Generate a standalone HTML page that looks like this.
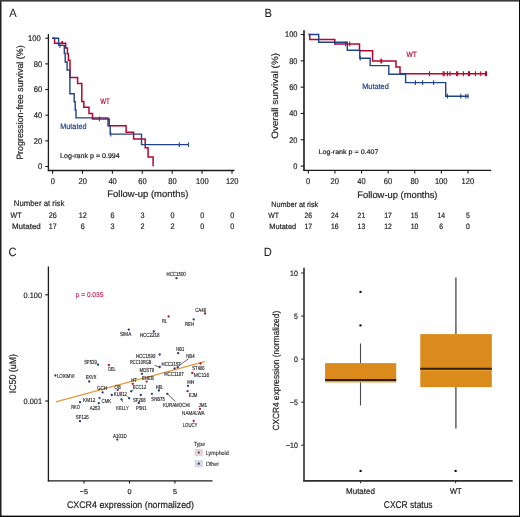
<!DOCTYPE html>
<html><head><meta charset="utf-8"><style>
html,body{margin:0;padding:0;background:#fff;width:520px;height:517px;overflow:hidden}
svg{display:block;will-change:transform}
text{font-family:"Liberation Sans", sans-serif;text-rendering:geometricPrecision}
</style></head><body>
<svg width="520" height="517" viewBox="0 0 520 517">
<rect x="0" y="0" width="520" height="517" fill="#fff"/>
<rect x="0" y="0" width="1.5" height="517" fill="#1e1e1e"/>
<rect x="0" y="0" width="520" height="1.6" fill="#3a3a3a"/>
<rect x="519.0" y="0" width="1.0" height="517" fill="#0a0a0a"/>
<rect x="0" y="515.6" width="520" height="1.4" fill="#0a0a0a"/>
<text transform="translate(9.2,16.6) scale(0.93,1)" font-size="12.0" fill="#231f20" stroke="#231f20" stroke-width="0.05">A</text>
<text transform="translate(264.6,16.8) scale(0.93,1)" font-size="12.0" fill="#231f20" stroke="#231f20" stroke-width="0.05">B</text>
<text transform="translate(8.6,256.3) scale(0.93,1)" font-size="12.0" fill="#231f20" stroke="#231f20" stroke-width="0.05">C</text>
<text transform="translate(263.8,256.2) scale(0.93,1)" font-size="12.0" fill="#231f20" stroke="#231f20" stroke-width="0.05">D</text>
<line x1="48.40" y1="34.00" x2="48.40" y2="171.10" stroke="#1a1a1a" stroke-width="1.3" />
<line x1="47.80" y1="170.50" x2="234.50" y2="170.50" stroke="#1a1a1a" stroke-width="1.3" />
<line x1="45.30" y1="38.20" x2="48.40" y2="38.20" stroke="#1a1a1a" stroke-width="1.1" />
<text transform="translate(40.80,41.00) scale(0.93,1)" font-size="8.2" fill="#231f20" stroke="#231f20" stroke-width="0.2" text-anchor="end">100</text>
<line x1="45.30" y1="63.86" x2="48.40" y2="63.86" stroke="#1a1a1a" stroke-width="1.1" />
<text transform="translate(42.30,66.66) scale(0.93,1)" font-size="8.2" fill="#231f20" stroke="#231f20" stroke-width="0.2" text-anchor="end">80</text>
<line x1="45.30" y1="89.52" x2="48.40" y2="89.52" stroke="#1a1a1a" stroke-width="1.1" />
<text transform="translate(42.30,92.32) scale(0.93,1)" font-size="8.2" fill="#231f20" stroke="#231f20" stroke-width="0.2" text-anchor="end">60</text>
<line x1="45.30" y1="115.18" x2="48.40" y2="115.18" stroke="#1a1a1a" stroke-width="1.1" />
<text transform="translate(42.30,117.98) scale(0.93,1)" font-size="8.2" fill="#231f20" stroke="#231f20" stroke-width="0.2" text-anchor="end">40</text>
<line x1="45.30" y1="140.84" x2="48.40" y2="140.84" stroke="#1a1a1a" stroke-width="1.1" />
<text transform="translate(42.30,143.64) scale(0.93,1)" font-size="8.2" fill="#231f20" stroke="#231f20" stroke-width="0.2" text-anchor="end">20</text>
<line x1="45.30" y1="166.50" x2="48.40" y2="166.50" stroke="#1a1a1a" stroke-width="1.1" />
<text transform="translate(42.30,169.30) scale(0.93,1)" font-size="8.2" fill="#231f20" stroke="#231f20" stroke-width="0.2" text-anchor="end">0</text>
<line x1="52.60" y1="170.50" x2="52.60" y2="173.80" stroke="#1a1a1a" stroke-width="1.1" />
<text transform="translate(52.80,183.90) scale(0.9,1)" font-size="8.4" fill="#231f20" stroke="#231f20" stroke-width="0.2" text-anchor="middle">0</text>
<line x1="82.50" y1="170.50" x2="82.50" y2="173.80" stroke="#1a1a1a" stroke-width="1.1" />
<text transform="translate(82.70,183.90) scale(0.9,1)" font-size="8.4" fill="#231f20" stroke="#231f20" stroke-width="0.2" text-anchor="middle">20</text>
<line x1="112.40" y1="170.50" x2="112.40" y2="173.80" stroke="#1a1a1a" stroke-width="1.1" />
<text transform="translate(112.60,183.90) scale(0.9,1)" font-size="8.4" fill="#231f20" stroke="#231f20" stroke-width="0.2" text-anchor="middle">40</text>
<line x1="142.30" y1="170.50" x2="142.30" y2="173.80" stroke="#1a1a1a" stroke-width="1.1" />
<text transform="translate(142.50,183.90) scale(0.9,1)" font-size="8.4" fill="#231f20" stroke="#231f20" stroke-width="0.2" text-anchor="middle">60</text>
<line x1="172.20" y1="170.50" x2="172.20" y2="173.80" stroke="#1a1a1a" stroke-width="1.1" />
<text transform="translate(172.40,183.90) scale(0.9,1)" font-size="8.4" fill="#231f20" stroke="#231f20" stroke-width="0.2" text-anchor="middle">80</text>
<line x1="202.10" y1="170.50" x2="202.10" y2="173.80" stroke="#1a1a1a" stroke-width="1.1" />
<text transform="translate(202.30,183.90) scale(0.9,1)" font-size="8.4" fill="#231f20" stroke="#231f20" stroke-width="0.2" text-anchor="middle">100</text>
<line x1="232.00" y1="170.50" x2="232.00" y2="173.80" stroke="#1a1a1a" stroke-width="1.1" />
<text transform="translate(232.20,183.90) scale(0.9,1)" font-size="8.4" fill="#231f20" stroke="#231f20" stroke-width="0.2" text-anchor="middle">120</text>
<text x="107.30" y="197.00" font-size="9.4" fill="#231f20" stroke="#231f20" stroke-width="0.2" textLength="81.00" lengthAdjust="spacingAndGlyphs" >Follow-up (months)</text>
<text transform="translate(22.69,159.80) rotate(-90)" x="0" y="0" font-size="9.2" fill="#231f20" stroke="#231f20" stroke-width="0.2" textLength="114.40" lengthAdjust="spacingAndGlyphs">Progression-free survival (%)</text>
<text x="100.20" y="103.60" font-size="8.0" fill="#b4062f" stroke="#b4062f" stroke-width="0.2" textLength="9.60" lengthAdjust="spacingAndGlyphs" >WT</text>
<text x="60.20" y="129.40" font-size="8.0" fill="#21438a" stroke="#21438a" stroke-width="0.2" textLength="26.40" lengthAdjust="spacingAndGlyphs" >Mutated</text>
<text x="60.10" y="157.60" font-size="6.8" fill="#231f20" stroke="#231f20" stroke-width="0.2" textLength="59.60" lengthAdjust="spacingAndGlyphs" >Log-rank p = 0.994</text>
<path d="M52.4,38.3 H54.6 V43.2 H65.7 V48 H67.4 V53.8 H68.4 V60.2 H70 V77.6 H77.6 V83.5 H81.8 V101.5 H83.8 V107.3 H89 V113.6 H92.5 V118.9 H109.2 V125.7 H126.1 V132.3 H133.6 V139 H145.2 V147.7 H148.1 V157 H153.1 V166.3" fill="none" stroke="#b4062f" stroke-width="1.5"/>
<path d="M52.2,38.3 H58.6 V45.4 H64.3 V53.3 H65.2 V62 H67.1 V70 H69.9 V93.8 H74.2 V101.8 H75.2 V110 H76 V117.9 H108 V125.7 H110.2 V134.1 H141.5 V144.6 H188.5" fill="none" stroke="#21438a" stroke-width="1.4"/>
<line x1="62.30" y1="41.00" x2="62.30" y2="44.40" stroke="#b4062f" stroke-width="1.6" />
<line x1="99.40" y1="116.50" x2="99.40" y2="121.30" stroke="#b4062f" stroke-width="1.1" />
<line x1="59.90" y1="43.10" x2="59.90" y2="47.70" stroke="#21438a" stroke-width="1.1" />
<line x1="110.70" y1="131.80" x2="110.70" y2="136.40" stroke="#21438a" stroke-width="1.1" />
<line x1="179.30" y1="142.30" x2="179.30" y2="146.90" stroke="#21438a" stroke-width="1.1" />
<line x1="188.50" y1="142.30" x2="188.50" y2="146.90" stroke="#21438a" stroke-width="1.1" />
<text x="13.80" y="206.10" font-size="8.1" fill="#231f20" stroke="#231f20" stroke-width="0.2" textLength="50.60" lengthAdjust="spacingAndGlyphs" >Number at risk</text>
<text x="10.60" y="217.50" font-size="7.9" fill="#231f20" stroke="#231f20" stroke-width="0.2" textLength="10.90" lengthAdjust="spacingAndGlyphs" >WT</text>
<text x="11.90" y="228.70" font-size="7.9" fill="#231f20" stroke="#231f20" stroke-width="0.2" textLength="28.90" lengthAdjust="spacingAndGlyphs" >Mutated</text>
<text transform="translate(52.80,217.80) scale(0.9,1)" font-size="8.0" fill="#231f20" stroke="#231f20" stroke-width="0.2" text-anchor="middle">26</text>
<text transform="translate(52.80,229.00) scale(0.9,1)" font-size="8.0" fill="#231f20" stroke="#231f20" stroke-width="0.2" text-anchor="middle">17</text>
<text transform="translate(82.70,217.80) scale(0.9,1)" font-size="8.0" fill="#231f20" stroke="#231f20" stroke-width="0.2" text-anchor="middle">12</text>
<text transform="translate(82.70,229.00) scale(0.9,1)" font-size="8.0" fill="#231f20" stroke="#231f20" stroke-width="0.2" text-anchor="middle">6</text>
<text transform="translate(112.60,217.80) scale(0.9,1)" font-size="8.0" fill="#231f20" stroke="#231f20" stroke-width="0.2" text-anchor="middle">6</text>
<text transform="translate(112.60,229.00) scale(0.9,1)" font-size="8.0" fill="#231f20" stroke="#231f20" stroke-width="0.2" text-anchor="middle">3</text>
<text transform="translate(142.50,217.80) scale(0.9,1)" font-size="8.0" fill="#231f20" stroke="#231f20" stroke-width="0.2" text-anchor="middle">3</text>
<text transform="translate(142.50,229.00) scale(0.9,1)" font-size="8.0" fill="#231f20" stroke="#231f20" stroke-width="0.2" text-anchor="middle">2</text>
<text transform="translate(172.40,217.80) scale(0.9,1)" font-size="8.0" fill="#231f20" stroke="#231f20" stroke-width="0.2" text-anchor="middle">0</text>
<text transform="translate(172.40,229.00) scale(0.9,1)" font-size="8.0" fill="#231f20" stroke="#231f20" stroke-width="0.2" text-anchor="middle">2</text>
<text transform="translate(202.30,217.80) scale(0.9,1)" font-size="8.0" fill="#231f20" stroke="#231f20" stroke-width="0.2" text-anchor="middle">0</text>
<text transform="translate(202.30,229.00) scale(0.9,1)" font-size="8.0" fill="#231f20" stroke="#231f20" stroke-width="0.2" text-anchor="middle">0</text>
<text transform="translate(232.20,217.80) scale(0.9,1)" font-size="8.0" fill="#231f20" stroke="#231f20" stroke-width="0.2" text-anchor="middle">0</text>
<text transform="translate(232.20,229.00) scale(0.9,1)" font-size="8.0" fill="#231f20" stroke="#231f20" stroke-width="0.2" text-anchor="middle">0</text>
<line x1="304.00" y1="30.20" x2="304.00" y2="171.10" stroke="#1a1a1a" stroke-width="1.6" />
<line x1="303.40" y1="170.40" x2="491.20" y2="170.40" stroke="#1a1a1a" stroke-width="1.3" />
<line x1="300.70" y1="34.50" x2="304.00" y2="34.50" stroke="#1a1a1a" stroke-width="1.1" />
<text transform="translate(297.40,37.30) scale(0.9,1)" font-size="8.2" fill="#231f20" stroke="#231f20" stroke-width="0.2" text-anchor="end">100</text>
<line x1="300.70" y1="60.82" x2="304.00" y2="60.82" stroke="#1a1a1a" stroke-width="1.1" />
<text transform="translate(297.40,63.62) scale(0.9,1)" font-size="8.2" fill="#231f20" stroke="#231f20" stroke-width="0.2" text-anchor="end">80</text>
<line x1="300.70" y1="87.14" x2="304.00" y2="87.14" stroke="#1a1a1a" stroke-width="1.1" />
<text transform="translate(297.40,89.94) scale(0.9,1)" font-size="8.2" fill="#231f20" stroke="#231f20" stroke-width="0.2" text-anchor="end">60</text>
<line x1="300.70" y1="113.46" x2="304.00" y2="113.46" stroke="#1a1a1a" stroke-width="1.1" />
<text transform="translate(297.40,116.26) scale(0.9,1)" font-size="8.2" fill="#231f20" stroke="#231f20" stroke-width="0.2" text-anchor="end">40</text>
<line x1="300.70" y1="139.78" x2="304.00" y2="139.78" stroke="#1a1a1a" stroke-width="1.1" />
<text transform="translate(297.40,142.58) scale(0.9,1)" font-size="8.2" fill="#231f20" stroke="#231f20" stroke-width="0.2" text-anchor="end">20</text>
<line x1="300.70" y1="166.10" x2="304.00" y2="166.10" stroke="#1a1a1a" stroke-width="1.1" />
<text transform="translate(297.40,168.90) scale(0.9,1)" font-size="8.2" fill="#231f20" stroke="#231f20" stroke-width="0.2" text-anchor="end">0</text>
<line x1="308.35" y1="170.40" x2="308.35" y2="173.60" stroke="#1a1a1a" stroke-width="1.1" />
<text transform="translate(308.20,183.90) scale(0.9,1)" font-size="8.4" fill="#231f20" stroke="#231f20" stroke-width="0.2" text-anchor="middle">0</text>
<line x1="334.95" y1="170.40" x2="334.95" y2="173.60" stroke="#1a1a1a" stroke-width="1.1" />
<text transform="translate(334.80,183.90) scale(0.9,1)" font-size="8.4" fill="#231f20" stroke="#231f20" stroke-width="0.2" text-anchor="middle">20</text>
<line x1="361.55" y1="170.40" x2="361.55" y2="173.60" stroke="#1a1a1a" stroke-width="1.1" />
<text transform="translate(361.40,183.90) scale(0.9,1)" font-size="8.4" fill="#231f20" stroke="#231f20" stroke-width="0.2" text-anchor="middle">40</text>
<line x1="388.15" y1="170.40" x2="388.15" y2="173.60" stroke="#1a1a1a" stroke-width="1.1" />
<text transform="translate(388.00,183.90) scale(0.9,1)" font-size="8.4" fill="#231f20" stroke="#231f20" stroke-width="0.2" text-anchor="middle">60</text>
<line x1="414.75" y1="170.40" x2="414.75" y2="173.60" stroke="#1a1a1a" stroke-width="1.1" />
<text transform="translate(414.60,183.90) scale(0.9,1)" font-size="8.4" fill="#231f20" stroke="#231f20" stroke-width="0.2" text-anchor="middle">80</text>
<line x1="441.35" y1="170.40" x2="441.35" y2="173.60" stroke="#1a1a1a" stroke-width="1.1" />
<text transform="translate(441.20,183.90) scale(0.9,1)" font-size="8.4" fill="#231f20" stroke="#231f20" stroke-width="0.2" text-anchor="middle">100</text>
<line x1="467.95" y1="170.40" x2="467.95" y2="173.60" stroke="#1a1a1a" stroke-width="1.1" />
<text transform="translate(467.80,183.90) scale(0.9,1)" font-size="8.4" fill="#231f20" stroke="#231f20" stroke-width="0.2" text-anchor="middle">120</text>
<text x="357.30" y="197.80" font-size="9.4" fill="#231f20" stroke="#231f20" stroke-width="0.2" textLength="80.20" lengthAdjust="spacingAndGlyphs" >Follow-up (months)</text>
<text transform="translate(278.39,138.80) rotate(-90)" x="0" y="0" font-size="9.2" fill="#231f20" stroke="#231f20" stroke-width="0.2" textLength="85.80" lengthAdjust="spacingAndGlyphs">Overall survival (%)</text>
<text x="406.60" y="56.80" font-size="7.6" fill="#b4062f" stroke="#b4062f" stroke-width="0.2" textLength="10.20" lengthAdjust="spacingAndGlyphs" >WT</text>
<text x="362.20" y="89.40" font-size="7.8" fill="#21438a" stroke="#21438a" stroke-width="0.2" textLength="26.60" lengthAdjust="spacingAndGlyphs" >Mutated</text>
<text x="318.50" y="154.00" font-size="6.6" fill="#231f20" stroke="#231f20" stroke-width="0.2" textLength="60.00" lengthAdjust="spacingAndGlyphs" >Log-rank p = 0.407</text>
<path d="M308.6,34.5 H309.8 V39.5 H334.8 V43.9 H359.5 V50.8 H372.6 V61.1 H396.0 V67.1 H400.0 V73.7 H486.9" fill="none" stroke="#b4062f" stroke-width="1.5"/>
<path d="M308.4,34.5 H318.7 V42.2 H347.3 V50.2 H359.8 V58.2 H370.2 V65.6 H388.8 V74.2 H405.6 V82.6 H445.7 V96.2 H468.5" fill="none" stroke="#21438a" stroke-width="1.4"/>
<line x1="345.50" y1="41.50" x2="345.50" y2="46.30" stroke="#b4062f" stroke-width="1.1" />
<line x1="349.80" y1="41.50" x2="349.80" y2="46.30" stroke="#b4062f" stroke-width="1.1" />
<line x1="381.30" y1="58.70" x2="381.30" y2="63.50" stroke="#b4062f" stroke-width="1.8" />
<line x1="429.50" y1="71.20" x2="429.50" y2="76.20" stroke="#b4062f" stroke-width="1.1" />
<line x1="443.10" y1="71.20" x2="443.10" y2="76.20" stroke="#b4062f" stroke-width="1.1" />
<line x1="444.20" y1="71.20" x2="444.20" y2="76.20" stroke="#b4062f" stroke-width="1.1" />
<line x1="447.40" y1="71.20" x2="447.40" y2="76.20" stroke="#b4062f" stroke-width="1.1" />
<line x1="450.00" y1="71.20" x2="450.00" y2="76.20" stroke="#b4062f" stroke-width="1.1" />
<line x1="456.60" y1="71.20" x2="456.60" y2="76.20" stroke="#b4062f" stroke-width="1.1" />
<line x1="457.70" y1="71.20" x2="457.70" y2="76.20" stroke="#b4062f" stroke-width="1.1" />
<line x1="463.40" y1="71.20" x2="463.40" y2="76.20" stroke="#b4062f" stroke-width="1.1" />
<line x1="468.50" y1="71.20" x2="468.50" y2="76.20" stroke="#b4062f" stroke-width="1.1" />
<line x1="469.50" y1="71.20" x2="469.50" y2="76.20" stroke="#b4062f" stroke-width="1.1" />
<line x1="475.40" y1="71.20" x2="475.40" y2="76.20" stroke="#b4062f" stroke-width="1.1" />
<line x1="480.80" y1="71.20" x2="480.80" y2="76.20" stroke="#b4062f" stroke-width="1.1" />
<line x1="485.40" y1="71.20" x2="485.40" y2="76.20" stroke="#b4062f" stroke-width="1.1" />
<line x1="486.50" y1="71.20" x2="486.50" y2="76.20" stroke="#b4062f" stroke-width="1.1" />
<line x1="360.20" y1="55.80" x2="360.20" y2="60.60" stroke="#21438a" stroke-width="1.1" />
<line x1="415.40" y1="80.20" x2="415.40" y2="85.00" stroke="#21438a" stroke-width="1.1" />
<line x1="422.60" y1="80.20" x2="422.60" y2="85.00" stroke="#21438a" stroke-width="1.1" />
<line x1="433.60" y1="80.20" x2="433.60" y2="85.00" stroke="#21438a" stroke-width="1.1" />
<line x1="447.40" y1="93.80" x2="447.40" y2="98.60" stroke="#21438a" stroke-width="1.1" />
<line x1="460.80" y1="93.80" x2="460.80" y2="98.60" stroke="#21438a" stroke-width="1.1" />
<line x1="465.80" y1="93.80" x2="465.80" y2="98.60" stroke="#21438a" stroke-width="1.1" />
<line x1="468.00" y1="93.80" x2="468.00" y2="98.60" stroke="#21438a" stroke-width="1.1" />
<text x="271.20" y="206.50" font-size="7.7" fill="#231f20" stroke="#231f20" stroke-width="0.2" textLength="47.00" lengthAdjust="spacingAndGlyphs" >Number at risk</text>
<text x="268.30" y="217.80" font-size="7.6" fill="#231f20" stroke="#231f20" stroke-width="0.2" textLength="10.60" lengthAdjust="spacingAndGlyphs" >WT</text>
<text x="269.30" y="228.80" font-size="7.6" fill="#231f20" stroke="#231f20" stroke-width="0.2" textLength="26.90" lengthAdjust="spacingAndGlyphs" >Mutated</text>
<text transform="translate(308.20,217.80) scale(0.88,1)" font-size="7.8" fill="#231f20" stroke="#231f20" stroke-width="0.2" text-anchor="middle">26</text>
<text transform="translate(308.20,228.80) scale(0.88,1)" font-size="7.8" fill="#231f20" stroke="#231f20" stroke-width="0.2" text-anchor="middle">17</text>
<text transform="translate(334.80,217.80) scale(0.88,1)" font-size="7.8" fill="#231f20" stroke="#231f20" stroke-width="0.2" text-anchor="middle">24</text>
<text transform="translate(334.80,228.80) scale(0.88,1)" font-size="7.8" fill="#231f20" stroke="#231f20" stroke-width="0.2" text-anchor="middle">16</text>
<text transform="translate(361.40,217.80) scale(0.88,1)" font-size="7.8" fill="#231f20" stroke="#231f20" stroke-width="0.2" text-anchor="middle">21</text>
<text transform="translate(361.40,228.80) scale(0.88,1)" font-size="7.8" fill="#231f20" stroke="#231f20" stroke-width="0.2" text-anchor="middle">13</text>
<text transform="translate(388.00,217.80) scale(0.88,1)" font-size="7.8" fill="#231f20" stroke="#231f20" stroke-width="0.2" text-anchor="middle">17</text>
<text transform="translate(388.00,228.80) scale(0.88,1)" font-size="7.8" fill="#231f20" stroke="#231f20" stroke-width="0.2" text-anchor="middle">12</text>
<text transform="translate(414.60,217.80) scale(0.88,1)" font-size="7.8" fill="#231f20" stroke="#231f20" stroke-width="0.2" text-anchor="middle">15</text>
<text transform="translate(414.60,228.80) scale(0.88,1)" font-size="7.8" fill="#231f20" stroke="#231f20" stroke-width="0.2" text-anchor="middle">10</text>
<text transform="translate(441.20,217.80) scale(0.88,1)" font-size="7.8" fill="#231f20" stroke="#231f20" stroke-width="0.2" text-anchor="middle">14</text>
<text transform="translate(441.20,228.80) scale(0.88,1)" font-size="7.8" fill="#231f20" stroke="#231f20" stroke-width="0.2" text-anchor="middle">6</text>
<text transform="translate(467.80,217.80) scale(0.88,1)" font-size="7.8" fill="#231f20" stroke="#231f20" stroke-width="0.2" text-anchor="middle">5</text>
<text transform="translate(467.80,228.80) scale(0.88,1)" font-size="7.8" fill="#231f20" stroke="#231f20" stroke-width="0.2" text-anchor="middle">0</text>
<line x1="48.40" y1="266.50" x2="48.40" y2="481.40" stroke="#1a1a1a" stroke-width="1.3" />
<line x1="47.80" y1="480.80" x2="212.50" y2="480.80" stroke="#1a1a1a" stroke-width="1.3" />
<line x1="45.20" y1="294.80" x2="48.40" y2="294.80" stroke="#1a1a1a" stroke-width="1.1" />
<text x="23.60" y="297.55" font-size="7.9" fill="#231f20" stroke="#231f20" stroke-width="0.2" textLength="18.40" lengthAdjust="spacingAndGlyphs" >0.100</text>
<line x1="45.20" y1="401.00" x2="48.40" y2="401.00" stroke="#1a1a1a" stroke-width="1.1" />
<text x="23.60" y="403.75" font-size="7.9" fill="#231f20" stroke="#231f20" stroke-width="0.2" textLength="18.40" lengthAdjust="spacingAndGlyphs" >0.001</text>
<line x1="84.00" y1="480.80" x2="84.00" y2="483.60" stroke="#1a1a1a" stroke-width="1.1" />
<line x1="129.50" y1="480.80" x2="129.50" y2="483.60" stroke="#1a1a1a" stroke-width="1.1" />
<line x1="174.90" y1="480.80" x2="174.90" y2="483.60" stroke="#1a1a1a" stroke-width="1.1" />
<text transform="translate(83.80,494.30) scale(1.0,1)" font-size="7.2" fill="#231f20" stroke="#231f20" stroke-width="0.2" text-anchor="middle">−5</text>
<text transform="translate(129.50,494.30) scale(1.0,1)" font-size="7.2" fill="#231f20" stroke="#231f20" stroke-width="0.2" text-anchor="middle">0</text>
<text transform="translate(174.90,494.30) scale(1.0,1)" font-size="7.2" fill="#231f20" stroke="#231f20" stroke-width="0.2" text-anchor="middle">5</text>
<text x="66.90" y="507.90" font-size="9.6" fill="#231f20" stroke="#231f20" stroke-width="0.2" textLength="127.10" lengthAdjust="spacingAndGlyphs" >CXCR4 expression (normalized)</text>
<text transform="translate(15.72,393.20) rotate(-90)" x="0" y="0" font-size="9.8" fill="#231f20" stroke="#231f20" stroke-width="0.2" textLength="39.20" lengthAdjust="spacingAndGlyphs">IC50 (uM)</text>
<text x="75.80" y="297.30" font-size="7.0" fill="#c2365e" stroke="#c2365e" stroke-width="0.2" textLength="27.50" lengthAdjust="spacingAndGlyphs" >p = 0.035</text>
<line x1="55.80" y1="401.80" x2="204.60" y2="361.60" stroke="#e49a3a" stroke-width="1.2" />
<line x1="188.50" y1="358.80" x2="177.70" y2="366.50" stroke="#222" stroke-width="0.7" />
<line x1="154.60" y1="365.50" x2="159.20" y2="366.80" stroke="#222" stroke-width="0.7" />
<line x1="121.50" y1="399.30" x2="123.00" y2="402.20" stroke="#222" stroke-width="0.7" />
<line x1="167.30" y1="393.80" x2="175.40" y2="401.50" stroke="#222" stroke-width="0.7" />
<line x1="127.50" y1="396.20" x2="129.20" y2="398.30" stroke="#222" stroke-width="0.7" />
<line x1="131.20" y1="391.30" x2="133.20" y2="389.60" stroke="#222" stroke-width="0.7" />
<circle cx="176.5" cy="278.2" r="1.15" fill="#1d3a85"/>
<circle cx="193.7" cy="319.4" r="1.15" fill="#1d3a85"/>
<circle cx="128.8" cy="329.6" r="1.15" fill="#1d3a85"/>
<circle cx="153.8" cy="331.5" r="1.15" fill="#1d3a85"/>
<circle cx="178.2" cy="353.2" r="1.15" fill="#1d3a85"/>
<circle cx="159.7" cy="354.5" r="1.15" fill="#1d3a85"/>
<circle cx="177.7" cy="367.3" r="1.15" fill="#1d3a85"/>
<circle cx="174.6" cy="368.5" r="1.15" fill="#1d3a85"/>
<circle cx="159.7" cy="367.0" r="1.15" fill="#1d3a85"/>
<circle cx="142.0" cy="373.8" r="1.15" fill="#1d3a85"/>
<circle cx="188.0" cy="385.8" r="1.15" fill="#1d3a85"/>
<circle cx="131.2" cy="391.3" r="1.15" fill="#1d3a85"/>
<circle cx="158.9" cy="390.5" r="1.15" fill="#1d3a85"/>
<circle cx="98.0" cy="364.7" r="1.15" fill="#1d3a85"/>
<circle cx="55.4" cy="375.5" r="1.15" fill="#1d3a85"/>
<circle cx="89.2" cy="381.5" r="1.15" fill="#1d3a85"/>
<circle cx="102.6" cy="392.4" r="1.15" fill="#1d3a85"/>
<circle cx="111.8" cy="395.0" r="1.15" fill="#1d3a85"/>
<circle cx="129.2" cy="398.3" r="1.15" fill="#1d3a85"/>
<circle cx="80.0" cy="402.2" r="1.15" fill="#1d3a85"/>
<circle cx="99.5" cy="398.1" r="1.15" fill="#1d3a85"/>
<circle cx="98.8" cy="403.2" r="1.15" fill="#1d3a85"/>
<circle cx="121.5" cy="399.3" r="1.15" fill="#1d3a85"/>
<circle cx="80.0" cy="421.2" r="1.15" fill="#1d3a85"/>
<circle cx="140.8" cy="395.0" r="1.15" fill="#1d3a85"/>
<circle cx="138.8" cy="403.0" r="1.15" fill="#1d3a85"/>
<circle cx="151.9" cy="393.8" r="1.15" fill="#1d3a85"/>
<circle cx="167.3" cy="393.8" r="1.15" fill="#1d3a85"/>
<circle cx="117.3" cy="439.6" r="1.15" fill="#1d3a85"/>
<circle cx="205.1" cy="313.5" r="1.15" fill="#b3123a"/>
<circle cx="168.6" cy="316.5" r="1.15" fill="#b3123a"/>
<circle cx="200.5" cy="363.5" r="1.15" fill="#b3123a"/>
<circle cx="192.3" cy="373.0" r="1.15" fill="#b3123a"/>
<circle cx="146.6" cy="381.6" r="1.15" fill="#b3123a"/>
<circle cx="132.8" cy="383.8" r="1.15" fill="#b3123a"/>
<circle cx="187.6" cy="391.2" r="1.15" fill="#b3123a"/>
<circle cx="108.8" cy="365.0" r="1.15" fill="#b3123a"/>
<circle cx="117.7" cy="390.1" r="1.15" fill="#b3123a"/>
<circle cx="200.0" cy="408.8" r="1.15" fill="#b3123a"/>
<circle cx="193.7" cy="420.8" r="1.15" fill="#b3123a"/>
<text x="166.50" y="276.30" font-size="5.9" fill="#222" stroke="#222" stroke-width="0.14" textLength="19.30" lengthAdjust="spacingAndGlyphs" >HCC1500</text>
<text x="195.20" y="311.70" font-size="5.9" fill="#222" stroke="#222" stroke-width="0.14" textLength="11.00" lengthAdjust="spacingAndGlyphs" >CA46</text>
<text x="161.90" y="323.40" font-size="5.9" fill="#222" stroke="#222" stroke-width="0.14" textLength="5.20" lengthAdjust="spacingAndGlyphs" >RL</text>
<text x="185.00" y="325.90" font-size="5.9" fill="#222" stroke="#222" stroke-width="0.14" textLength="9.00" lengthAdjust="spacingAndGlyphs" >REH</text>
<text x="120.00" y="335.90" font-size="5.9" fill="#222" stroke="#222" stroke-width="0.14" textLength="11.20" lengthAdjust="spacingAndGlyphs" >SIMA</text>
<text x="139.80" y="337.40" font-size="5.9" fill="#222" stroke="#222" stroke-width="0.14" textLength="19.80" lengthAdjust="spacingAndGlyphs" >HCC2218</text>
<text x="176.20" y="351.20" font-size="5.9" fill="#222" stroke="#222" stroke-width="0.14" textLength="8.00" lengthAdjust="spacingAndGlyphs" >NB1</text>
<text x="135.80" y="357.80" font-size="5.9" fill="#222" stroke="#222" stroke-width="0.14" textLength="19.60" lengthAdjust="spacingAndGlyphs" >HCC1599</text>
<text x="186.20" y="358.20" font-size="5.9" fill="#222" stroke="#222" stroke-width="0.14" textLength="8.40" lengthAdjust="spacingAndGlyphs" >NB4</text>
<text x="161.50" y="365.50" font-size="5.9" fill="#222" stroke="#222" stroke-width="0.14" textLength="19.30" lengthAdjust="spacingAndGlyphs" >HCC2157</text>
<text x="130.00" y="364.40" font-size="5.9" fill="#222" stroke="#222" stroke-width="0.14" textLength="21.50" lengthAdjust="spacingAndGlyphs" >RCC10RGB</text>
<text x="192.30" y="369.70" font-size="5.9" fill="#222" stroke="#222" stroke-width="0.14" textLength="12.30" lengthAdjust="spacingAndGlyphs" >ST486</text>
<text x="139.50" y="372.10" font-size="5.9" fill="#222" stroke="#222" stroke-width="0.14" textLength="14.80" lengthAdjust="spacingAndGlyphs" >MDST8</text>
<text x="164.20" y="375.50" font-size="5.9" fill="#222" stroke="#222" stroke-width="0.14" textLength="19.60" lengthAdjust="spacingAndGlyphs" >HCC1187</text>
<text x="193.80" y="377.00" font-size="5.9" fill="#222" stroke="#222" stroke-width="0.14" textLength="15.40" lengthAdjust="spacingAndGlyphs" >MC116</text>
<text x="142.00" y="379.70" font-size="5.9" fill="#222" stroke="#222" stroke-width="0.14" textLength="11.80" lengthAdjust="spacingAndGlyphs" >EHEB</text>
<text x="132.80" y="389.10" font-size="5.9" fill="#222" stroke="#222" stroke-width="0.14" textLength="13.40" lengthAdjust="spacingAndGlyphs" >ECC12</text>
<text x="187.30" y="384.20" font-size="5.9" fill="#222" stroke="#222" stroke-width="0.14" textLength="6.90" lengthAdjust="spacingAndGlyphs" >HH</text>
<text x="155.80" y="388.90" font-size="5.9" fill="#222" stroke="#222" stroke-width="0.14" textLength="7.80" lengthAdjust="spacingAndGlyphs" >HEL</text>
<text x="84.20" y="363.50" font-size="5.9" fill="#222" stroke="#222" stroke-width="0.14" textLength="12.70" lengthAdjust="spacingAndGlyphs" >SF539</text>
<text x="108.20" y="370.50" font-size="5.9" fill="#222" stroke="#222" stroke-width="0.14" textLength="7.60" lengthAdjust="spacingAndGlyphs" >DEL</text>
<text x="56.90" y="377.50" font-size="5.9" fill="#222" stroke="#222" stroke-width="0.14" textLength="17.70" lengthAdjust="spacingAndGlyphs" >LOXIMVI</text>
<text x="85.70" y="379.30" font-size="5.9" fill="#222" stroke="#222" stroke-width="0.14" textLength="10.80" lengthAdjust="spacingAndGlyphs" >EKVX</text>
<text x="97.00" y="389.70" font-size="5.9" fill="#222" stroke="#222" stroke-width="0.14" textLength="10.00" lengthAdjust="spacingAndGlyphs" >GCH</text>
<text x="114.60" y="388.50" font-size="5.9" fill="#222" stroke="#222" stroke-width="0.14" textLength="6.20" lengthAdjust="spacingAndGlyphs" >OB</text>
<text x="113.80" y="395.70" font-size="5.9" fill="#222" stroke="#222" stroke-width="0.14" textLength="13.20" lengthAdjust="spacingAndGlyphs" >KU812</text>
<text x="83.10" y="401.60" font-size="5.9" fill="#222" stroke="#222" stroke-width="0.14" textLength="12.30" lengthAdjust="spacingAndGlyphs" >KM12</text>
<text x="71.20" y="408.50" font-size="5.9" fill="#222" stroke="#222" stroke-width="0.14" textLength="8.80" lengthAdjust="spacingAndGlyphs" >RKO</text>
<text x="101.50" y="402.90" font-size="5.9" fill="#222" stroke="#222" stroke-width="0.14" textLength="9.70" lengthAdjust="spacingAndGlyphs" >CMK</text>
<text x="89.70" y="410.10" font-size="5.9" fill="#222" stroke="#222" stroke-width="0.14" textLength="10.30" lengthAdjust="spacingAndGlyphs" >A253</text>
<text x="116.20" y="409.60" font-size="5.9" fill="#222" stroke="#222" stroke-width="0.14" textLength="12.60" lengthAdjust="spacingAndGlyphs" >KELLY</text>
<text x="75.80" y="419.30" font-size="5.9" fill="#222" stroke="#222" stroke-width="0.14" textLength="13.00" lengthAdjust="spacingAndGlyphs" >SF126</text>
<text x="133.00" y="401.80" font-size="5.9" fill="#222" stroke="#222" stroke-width="0.14" textLength="12.60" lengthAdjust="spacingAndGlyphs" >SF268</text>
<text x="136.00" y="409.50" font-size="5.9" fill="#222" stroke="#222" stroke-width="0.14" textLength="10.50" lengthAdjust="spacingAndGlyphs" >PSN1</text>
<text x="151.30" y="401.20" font-size="5.9" fill="#222" stroke="#222" stroke-width="0.14" textLength="13.50" lengthAdjust="spacingAndGlyphs" >SNB75</text>
<text x="162.90" y="406.60" font-size="5.9" fill="#222" stroke="#222" stroke-width="0.14" textLength="26.90" lengthAdjust="spacingAndGlyphs" >KURAMOCHI</text>
<text x="188.80" y="397.40" font-size="5.9" fill="#222" stroke="#222" stroke-width="0.14" textLength="8.70" lengthAdjust="spacingAndGlyphs" >EJM</text>
<text x="198.50" y="406.60" font-size="5.9" fill="#222" stroke="#222" stroke-width="0.14" textLength="8.60" lengthAdjust="spacingAndGlyphs" >JM1</text>
<text x="182.10" y="414.70" font-size="5.9" fill="#222" stroke="#222" stroke-width="0.14" textLength="22.50" lengthAdjust="spacingAndGlyphs" >NAMALWA</text>
<text x="182.70" y="427.40" font-size="5.9" fill="#222" stroke="#222" stroke-width="0.14" textLength="14.80" lengthAdjust="spacingAndGlyphs" >LOUCY</text>
<text x="112.90" y="438.40" font-size="5.9" fill="#222" stroke="#222" stroke-width="0.14" textLength="14.00" lengthAdjust="spacingAndGlyphs" >A101D</text>
<text x="131.20" y="382.20" font-size="5.9" fill="#222" stroke="#222" stroke-width="0.14" textLength="5.80" lengthAdjust="spacingAndGlyphs" >HT</text>
<text x="193.80" y="445.60" font-size="6.0" fill="#2a2a2a" stroke="#2a2a2a" stroke-width="0.12" textLength="11.40" lengthAdjust="spacingAndGlyphs" >Type</text>
<rect x="194.6" y="449.0" width="8.2" height="7.2" fill="#d8d8dd"/>
<rect x="194.6" y="460.1" width="8.2" height="7.2" fill="#d8d8dd"/>
<circle cx="198.8" cy="452.6" r="1.1" fill="#b3123a"/>
<circle cx="198.8" cy="463.7" r="1.1" fill="#1d3a85"/>
<text x="205.70" y="455.00" font-size="6.0" fill="#2a2a2a" stroke="#2a2a2a" stroke-width="0.12" textLength="23.10" lengthAdjust="spacingAndGlyphs" >Lymphoid</text>
<text x="205.70" y="465.80" font-size="6.0" fill="#2a2a2a" stroke="#2a2a2a" stroke-width="0.12" textLength="13.40" lengthAdjust="spacingAndGlyphs" >Other</text>
<rect x="325.1" y="363.1" width="71.1" height="19.3" fill="#db8b1b"/>
<rect x="420.3" y="334.1" width="71.5" height="53.0" fill="#db8b1b"/>
<line x1="325.10" y1="381.30" x2="396.20" y2="381.30" stroke="#eea233" stroke-width="1.0" />
<line x1="325.10" y1="380.00" x2="396.20" y2="380.00" stroke="#33200c" stroke-width="2.0" />
<line x1="420.30" y1="370.20" x2="491.80" y2="370.20" stroke="#eea233" stroke-width="1.0" />
<line x1="420.30" y1="368.80" x2="491.80" y2="368.80" stroke="#33200c" stroke-width="2.0" />
<line x1="360.50" y1="343.50" x2="360.50" y2="363.10" stroke="#4a4a4a" stroke-width="1.1" />
<line x1="360.50" y1="382.40" x2="360.50" y2="405.40" stroke="#4a4a4a" stroke-width="1.1" />
<line x1="455.90" y1="277.50" x2="455.90" y2="334.10" stroke="#6a6a6a" stroke-width="1.6" />
<line x1="455.90" y1="387.10" x2="455.90" y2="428.60" stroke="#6a6a6a" stroke-width="1.6" />
<circle cx="360.5" cy="291.9" r="1.2" fill="#111"/>
<circle cx="360.5" cy="325.4" r="1.2" fill="#111"/>
<circle cx="360.6" cy="470.9" r="1.2" fill="#111"/>
<circle cx="455.6" cy="470.9" r="1.2" fill="#111"/>
<line x1="304.00" y1="267.80" x2="304.00" y2="481.60" stroke="#2e2e2e" stroke-width="1.6" />
<line x1="303.30" y1="480.90" x2="512.70" y2="480.90" stroke="#2e2e2e" stroke-width="1.6" />
<line x1="301.20" y1="273.00" x2="304.00" y2="273.00" stroke="#333" stroke-width="1.1" />
<text transform="translate(297.80,275.75) scale(0.9,1)" font-size="7.8" fill="#231f20" stroke="#231f20" stroke-width="0.2" text-anchor="end">10</text>
<line x1="301.20" y1="316.06" x2="304.00" y2="316.06" stroke="#333" stroke-width="1.1" />
<text transform="translate(297.80,318.81) scale(0.9,1)" font-size="7.8" fill="#231f20" stroke="#231f20" stroke-width="0.2" text-anchor="end">5</text>
<line x1="301.20" y1="359.10" x2="304.00" y2="359.10" stroke="#333" stroke-width="1.1" />
<text transform="translate(297.80,361.85) scale(0.9,1)" font-size="7.8" fill="#231f20" stroke="#231f20" stroke-width="0.2" text-anchor="end">0</text>
<line x1="301.20" y1="402.20" x2="304.00" y2="402.20" stroke="#333" stroke-width="1.1" />
<text transform="translate(297.80,404.95) scale(0.9,1)" font-size="7.8" fill="#231f20" stroke="#231f20" stroke-width="0.2" text-anchor="end">−5</text>
<line x1="301.20" y1="445.25" x2="304.00" y2="445.25" stroke="#333" stroke-width="1.1" />
<text transform="translate(297.80,448.00) scale(0.9,1)" font-size="7.8" fill="#231f20" stroke="#231f20" stroke-width="0.2" text-anchor="end">−10</text>
<line x1="360.60" y1="480.90" x2="360.60" y2="483.20" stroke="#333" stroke-width="1.1" />
<line x1="455.60" y1="480.90" x2="455.60" y2="483.20" stroke="#333" stroke-width="1.1" />
<text x="346.00" y="494.40" font-size="8.2" fill="#231f20" stroke="#231f20" stroke-width="0.2" textLength="29.00" lengthAdjust="spacingAndGlyphs" >Mutated</text>
<text x="450.00" y="494.40" font-size="8.2" fill="#231f20" stroke="#231f20" stroke-width="0.2" textLength="11.60" lengthAdjust="spacingAndGlyphs" >WT</text>
<text x="383.80" y="508.00" font-size="9.9" fill="#231f20" stroke="#231f20" stroke-width="0.2" textLength="48.80" lengthAdjust="spacingAndGlyphs" >CXCR status</text>
<text transform="translate(278.97,430.60) rotate(-90)" x="0" y="0" font-size="8.9" fill="#231f20" stroke="#231f20" stroke-width="0.2" textLength="119.80" lengthAdjust="spacingAndGlyphs">CXCR4 expression (normalized)</text>
</svg>
</body></html>
